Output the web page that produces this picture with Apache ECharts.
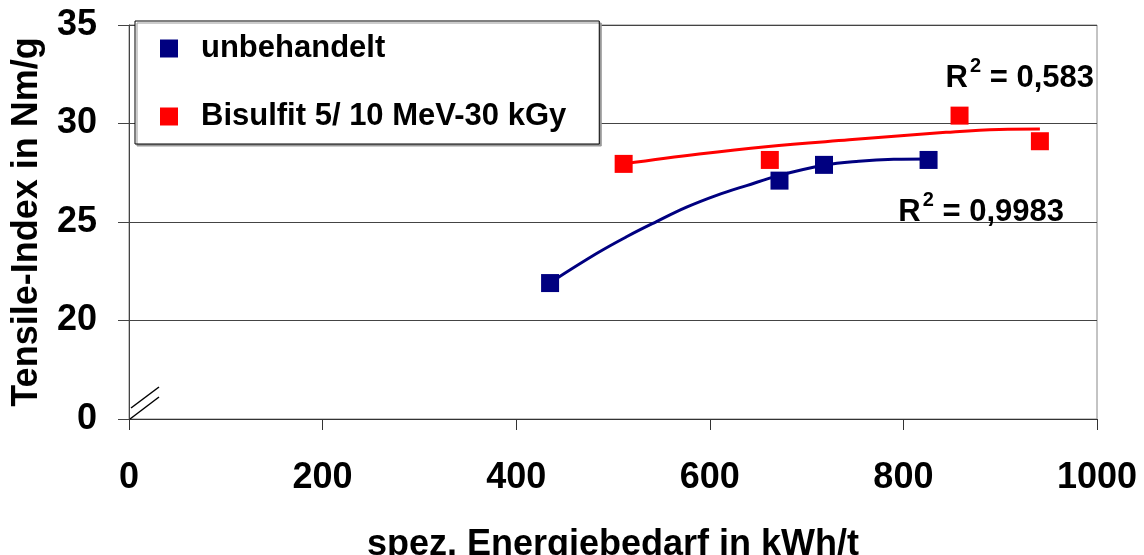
<!DOCTYPE html>
<html>
<head>
<meta charset="utf-8">
<script src="https://cdn.jsdelivr.net/npm/echarts@6/dist/echarts.min.js"></script>
<style>
  html, body { margin: 0; padding: 0; background: #fff; }
  #chart { width: 1144px; height: 555px; }
</style>
</head>
<body>
<div id="chart"></div>
<script>
// ---- data ----
const seriesNames = ['unbehandelt', 'Bisulfit 5/ 10 MeV-30 kGy'];
const colors = ['#000080', '#FF0000'];

const blueX = [435, 672, 718, 826];
const blueY = [21.9, 27.1, 27.9, 28.15];
const redX = [511, 662, 858, 941];
const redY = [27.95, 28.15, 30.4, 29.1];

// trend lines
const blueTrendX = [435, 483, 514, 545, 576, 607, 638, 673, 718, 754, 790, 826];
const blueTrendY = [21.92, 23.4, 24.25, 25.02, 25.75, 26.35, 26.85, 27.38, 27.88, 28.08, 28.18, 28.2];
const redTrendX = [511, 589, 658, 744, 844, 899, 941];
const redTrendY = [27.95, 28.45, 28.82, 29.17, 29.55, 29.7, 29.72];

const r2Labels = ['0,9983', '0,583'];

const xTickLabels = ['0', '200', '400', '600', '800', '1000'];
const yTickValues = [15, 20, 25, 30, 35];
const yTickLabels = ['0', '20', '25', '30', '35'];

const FONT = "'Liberation Sans', Arial, sans-serif";

const zip = (xs, ys) => xs.map((x, i) => [x, ys[i]]);

const chart = echarts.init(document.getElementById('chart'), null, { renderer: 'canvas' });

const option = {
  backgroundColor: '#fff',
  animation: false,
  grid: { left: 129, right: 47, top: 25, bottom: 136, show: true, borderColor: '#888', borderWidth: 1,
          containLabel: false, outerBoundsMode: 'none' },
  legend: {
    orient: 'vertical',
    left: 135, top: 21,
    padding: [12, 33, 12, 25],
    itemGap: 37,
    itemWidth: 18, itemHeight: 18,
    backgroundColor: '#fff',
    borderColor: '#000', borderWidth: 1,
    shadowColor: '#999', shadowOffsetX: 2, shadowOffsetY: 2, shadowBlur: 0.01,
    textStyle: { fontFamily: FONT, fontWeight: 'bold', fontSize: 31, color: '#000', padding: [0, 0, 0, 18] },
    data: seriesNames.map((n, i) => ({ name: n, icon: 'rect', itemStyle: { color: colors[i], opacity: 1 } }))
  },
  xAxis: {
    type: 'value', min: 0, max: 1000, interval: 200,
    name: 'spez. Energiebedarf in kWh/t', nameLocation: 'middle', nameGap: 108,
    nameTextStyle: { fontFamily: FONT, fontWeight: 'bold', fontSize: 36, color: '#000' },
    axisLine: { lineStyle: { color: '#333', width: 1 } },
    axisTick: { show: true, length: 11, lineStyle: { color: '#333' } },
    splitLine: { show: false },
    axisLabel: {
      margin: 41, fontFamily: FONT, fontWeight: 'bold', fontSize: 36, color: '#000',
      formatter: (v) => xTickLabels[Math.round(v / 200)]
    }
  },
  yAxis: {
    type: 'value', min: 15, max: 35, interval: 5,
    name: 'Tensile-Index in Nm/g', nameLocation: 'middle', nameGap: 84,
    nameTextStyle: { fontFamily: FONT, fontWeight: 'bold', fontSize: 36, color: '#000' },
    axisLine: { show: true, lineStyle: { color: '#444', width: 1 } },
    axisTick: { show: true, length: 11, lineStyle: { color: '#444' } },
    splitLine: { show: true, lineStyle: { color: '#444', width: 1 } },
    axisLabel: {
      margin: 32, fontFamily: FONT, fontWeight: 'bold', fontSize: 36, color: '#000',
      formatter: (v) => yTickLabels[yTickValues.indexOf(v)]
    }
  },
  series: [
    {
      name: 'blueTrend', type: 'line', data: zip(blueTrendX, blueTrendY), smooth: 0.4,
      showSymbol: false, symbol: 'none', silent: true, z: 2,
      lineStyle: { color: colors[0], width: 3 }
    },
    {
      name: 'redTrend', type: 'line', data: zip(redTrendX, redTrendY), smooth: 0.4,
      showSymbol: false, symbol: 'none', silent: true, z: 2,
      lineStyle: { color: colors[1], width: 3 }
    },
    {
      name: seriesNames[0], type: 'scatter', data: zip(blueX, blueY), symbol: 'rect', symbolSize: 18,
      itemStyle: { color: colors[0], opacity: 1 }, z: 3
    },
    {
      name: seriesNames[1], type: 'scatter', data: zip(redX, redY), symbol: 'rect', symbolSize: 18,
      itemStyle: { color: colors[1], opacity: 1 }, z: 3
    }
  ]
};
chart.setOption(option);

// annotations and axis break mark
function addGraphics() {
  const p = (x, y) => chart.convertToPixel({ gridIndex: 0 }, [x, y]);
  const rich = {
    a: { fontFamily: FONT, fontWeight: 'bold', fontSize: 31, color: '#000', verticalAlign: 'bottom', lineHeight: 38 },
    s: { fontFamily: FONT, fontWeight: 'bold', fontSize: 20, color: '#000', verticalAlign: 'top', lineHeight: 38, padding: [0, 0, 14, 2] }
  };
  const redLbl = p(1000, 32.8);
  const blueLbl = p(970, 25.3);
  const b0 = p(0, 15);
  chart.setOption({
    graphic: [
      { type: 'text', right: 1144 - redLbl[0] - 4 + 7, top: redLbl[1] - 12, z: 10,
        style: { text: '{a|R}{s|2}{a| = ' + r2Labels[1] + '}', rich: rich } },
      { type: 'text', right: 1144 - blueLbl[0] + 4, top: blueLbl[1] - 26, z: 10,
        style: { text: '{a|R}{s|2}{a| = ' + r2Labels[0] + '}', rich: rich } },
      { type: 'line', z: 10, shape: { x1: b0[0] + 2, y1: b0[1] - 11, x2: b0[0] + 30, y2: b0[1] - 32 },
        style: { stroke: '#000', lineWidth: 1.5 } },
      { type: 'line', z: 10, shape: { x1: b0[0] + 1, y1: b0[1], x2: b0[0] + 30, y2: b0[1] - 22 },
        style: { stroke: '#000', lineWidth: 1.5 } }
    ]
  });
}
addGraphics();
</script>
</body>
</html>
